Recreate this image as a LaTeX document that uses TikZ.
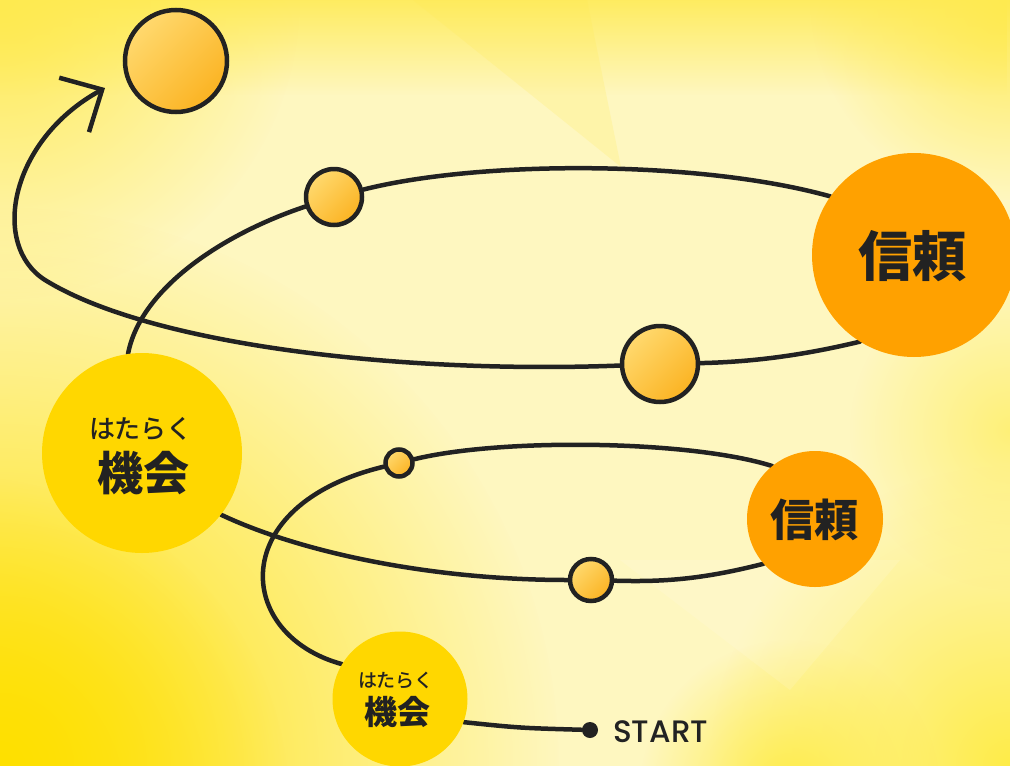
\documentclass[tikz,border=0pt]{standalone}
\usepackage{fontspec}
\newfontfamily\jp{Noto Sans CJK JP}
\newfontfamily\jpm{Noto Sans CJK JP}[UprightFont={* Medium}]
\newfontfamily\startfont{Poppins}[UprightFont={* Medium}]
\usetikzlibrary{arrows.meta,fadings}
\definecolor{ink}{HTML}{222222}
\definecolor{bgbase}{HTML}{FEF7C0}
\definecolor{ylow}{HTML}{FFE000}
\definecolor{ytop}{HTML}{FFEA50}
\definecolor{ybr}{HTML}{FFEC48}
\definecolor{gold}{HTML}{FFD700}
\definecolor{orangec}{HTML}{FFA100}
\definecolor{ballA}{HTML}{FFD96E}
\definecolor{ballB}{HTML}{FBB322}
\tikzfading[name=radfade, inner color=transparent!0, outer color=transparent!100]
\tikzfading[name=downfade, top color=transparent!0, bottom color=transparent!100]
\pgfdeclarelayer{background}
\pgfdeclarelayer{lines}
\pgfsetlayers{background,lines,main}
\begin{document}
\begin{tikzpicture}[x=1pt,y=-1pt,
  lin/.style={line width=4.5pt, draw=ink, line cap=round},
  ball/.style={circle, draw=ink, line width=4.5pt, inner sep=0pt, top color=ballA, bottom color=ballB, shading angle=45},
  kikai/.style={circle, fill=gold, inner sep=0pt},
  shinrai/.style={circle, fill=orangec, inner sep=0pt},
  jtext/.style={text=ink, inner sep=0pt}
]
\useasboundingbox (0,0) rectangle (1010,766);
\begin{pgfonlayer}{background}
\fill[bgbase] (0,0) rectangle (1010,766);
\fill[ylow, path fading=radfade] (0,766) circle (560);
\fill[ylow, path fading=radfade] (-40,806) circle (330);
\fill[ytop, path fading=downfade, opacity=0.85] (0,0) rectangle (1010,95);
\fill[ytop, path fading=radfade] (0,0) circle (300);
\fill[ytop, path fading=radfade] (1010,0) circle (200);
\fill[ybr, path fading=radfade] (1010,766) circle (300);
\fill[ybr, path fading=radfade] (790,790) circle (150);
\fill[ybr, path fading=radfade, opacity=0.6] (1010,430) circle (160);
\fill[ytop, opacity=0.2] (413,0) -- (587,0) -- (621,167) -- cycle;
\fill[white, opacity=0.12] (620,560) -- (900,560) -- (790,690) -- cycle;
\end{pgfonlayer}

% circles
\node[kikai, minimum size=200pt] (kikaiL) at (142,453) {};
\node[kikai, minimum size=135pt] (kikaiS) at (400,699) {};
\node[shinrai, minimum size=204pt] (shinL) at (914,255) {};
\node[shinrai, minimum size=136pt] (shinS) at (815,519) {};
\node[ball, minimum size=27pt] (dot1) at (399,463) {};
\node[ball, minimum size=42pt] (ball2) at (591,580) {};
\node[ball, minimum size=56pt] (ball3) at (334,197) {};
\node[ball, minimum size=76pt] (ball4) at (660,364) {};
\node[ball, minimum size=102pt] (goal) at (176,61) {};
\node[circle, fill=ink, minimum size=16pt, inner sep=0pt] (startdot) at (590,730) {};
\node[text=ink, inner sep=0pt, anchor=west, font=\startfont\fontsize{31}{31}\selectfont] (starttxt) at (613,732) {START};

% texts
\node[jtext, font=\jpm\fontsize{26}{26}\selectfont] (kLa) at (141,429) {はたらく};
\node[jtext, font=\jp\bfseries\fontsize{46}{46}\selectfont] (kLb) at (143,473) {機会};
\node[jtext, font=\jpm\fontsize{19}{19}\selectfont] (kSa) at (396,680) {はたらく};
\node[jtext, font=\jp\bfseries\fontsize{33}{33}\selectfont] (kSb) at (397,712) {機会};
\node[jtext, font=\jp\bfseries\fontsize{54}{54}\selectfont] (sL) at (912,256) {信頼};
\node[jtext, font=\jp\bfseries\fontsize{44}{44}\selectfont] (sS) at (814,520) {信頼};

\coordinate (bend) at (45,280);
\coordinate (tip) at (105,88);

\begin{pgfonlayer}{lines}
\draw[lin] (kikaiS.-20) .. controls (520,728) .. (startdot);
\draw[lin] (kikaiS.149) .. controls (235,635) and (225,505) .. (dot1);
\draw[lin] (dot1) .. controls (500,438) and (690,440) .. (shinS.129);
\draw[lin] (shinS.-139) .. controls (700,580) and (660,582) .. (ball2);
\draw[lin] (ball2) .. controls (430,580) and (300,552) .. (kikaiL.-38.5);
\draw[lin] (kikaiL.98) .. controls (140,290) and (220,235) .. (ball3);
\draw[lin] (ball3) .. controls (480,160) and (700,160) .. (shinL.145);
\draw[lin] (shinL.-122) .. controls (800,356) and (750,362) .. (ball4);
\draw[lin, -{Straight Barb[length=32pt,width=62pt]}] (ball4) .. controls (400,374) and (150,345) .. (bend) .. controls (-10,245) and (10,140) .. (tip);
\end{pgfonlayer}
\end{tikzpicture}
\end{document}
